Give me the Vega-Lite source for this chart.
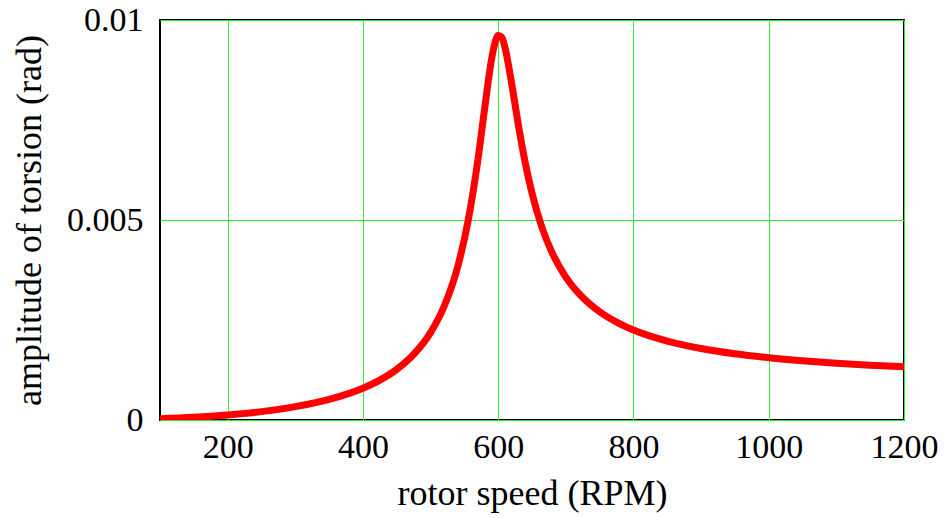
{
  "$schema": "https://vega.github.io/schema/vega-lite/v6.json",
  "width": 744,
  "height": 400,
  "autosize": "none",
  "padding": {"left": 160, "top": 20, "right": 46, "bottom": 98},
  "background": "white",
  "config": {
    "view": {"stroke": "#000000", "strokeWidth": 2},
    "font": "'Liberation Serif', 'Times New Roman', Times, serif"
  },
  "data": {
    "values": [
      {"rpm": 100, "amp": 0.0000286},
      {"rpm": 150, "amp": 0.0000666},
      {"rpm": 200, "amp": 0.000125},
      {"rpm": 250, "amp": 0.00021},
      {"rpm": 300, "amp": 0.000333},
      {"rpm": 350, "amp": 0.000514},
      {"rpm": 400, "amp": 0.000794},
      {"rpm": 425, "amp": 0.000996},
      {"rpm": 450, "amp": 0.001266},
      {"rpm": 475, "amp": 0.00164},
      {"rpm": 500, "amp": 0.002186},
      {"rpm": 520, "amp": 0.002837},
      {"rpm": 540, "amp": 0.003824},
      {"rpm": 555, "amp": 0.004932},
      {"rpm": 570, "amp": 0.0065},
      {"rpm": 580, "amp": 0.007786},
      {"rpm": 590, "amp": 0.009},
      {"rpm": 595, "amp": 0.009414},
      {"rpm": 600, "amp": 0.009615},
      {"rpm": 605, "amp": 0.009575},
      {"rpm": 610, "amp": 0.009316},
      {"rpm": 620, "amp": 0.008404},
      {"rpm": 630, "amp": 0.007361},
      {"rpm": 640, "amp": 0.006432},
      {"rpm": 650, "amp": 0.00567},
      {"rpm": 665, "amp": 0.0048},
      {"rpm": 680, "amp": 0.004172},
      {"rpm": 700, "amp": 0.003573},
      {"rpm": 725, "amp": 0.003061},
      {"rpm": 750, "amp": 0.002706},
      {"rpm": 775, "amp": 0.002447},
      {"rpm": 800, "amp": 0.00225},
      {"rpm": 850, "amp": 0.001972},
      {"rpm": 900, "amp": 0.001786},
      {"rpm": 950, "amp": 0.001654},
      {"rpm": 1000, "amp": 0.001555},
      {"rpm": 1050, "amp": 0.001479},
      {"rpm": 1100, "amp": 0.001419},
      {"rpm": 1150, "amp": 0.00137},
      {"rpm": 1200, "amp": 0.00133}
    ]
  },
  "mark": {"type": "line", "color": "#ff0000", "strokeWidth": 7, "interpolate": "monotone", "clip": true},
  "encoding": {
    "x": {
      "field": "rpm",
      "type": "quantitative",
      "scale": {"domain": [100, 1200], "nice": false, "zero": false},
      "axis": {
        "title": "rotor speed (RPM)",
        "values": [200, 400, 600, 800, 1000, 1200],
        "format": "d",
        "domain": false,
        "ticks": false,
        "grid": true,
        "gridColor": "#33ee33",
        "gridWidth": 1,
        "gridOpacity": 1,
        "labelFont": "Liberation Serif",
        "labelFontSize": 34,
        "labelColor": "#000000",
        "labelPadding": 10,
        "labelFlush": false,
        "labelOverlap": false,
        "titleFont": "Liberation Serif",
        "titleFontSize": 36,
        "titleFontWeight": "normal",
        "titleColor": "#000000",
        "titlePadding": 12
      }
    },
    "y": {
      "field": "amp",
      "type": "quantitative",
      "scale": {"domain": [0, 0.01], "nice": false},
      "axis": {
        "title": "amplitude of torsion (rad)",
        "values": [0, 0.005, 0.01],
        "format": "~g",
        "domain": false,
        "ticks": false,
        "grid": true,
        "gridColor": "#22ee22",
        "gridWidth": 1,
        "gridOpacity": 1,
        "labelFont": "Liberation Serif",
        "labelFontSize": 34,
        "labelColor": "#000000",
        "labelPadding": 17,
        "labelFlush": false,
        "labelOverlap": false,
        "titleFont": "Liberation Serif",
        "titleFontSize": 36,
        "titleFontWeight": "normal",
        "titleColor": "#000000",
        "titlePadding": 18
      }
    }
  }
}
